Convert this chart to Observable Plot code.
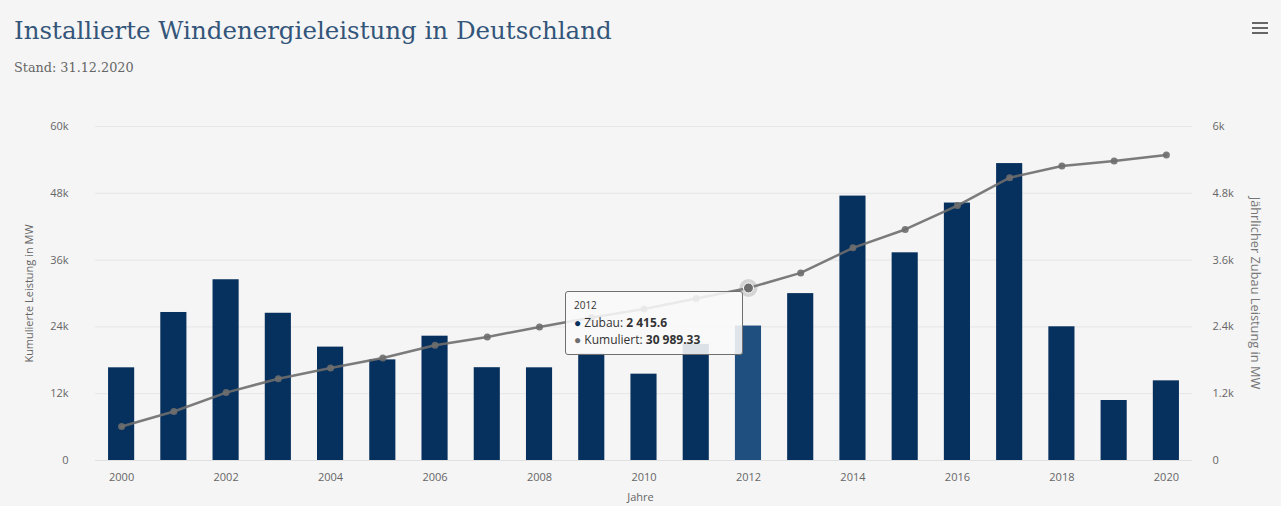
<!DOCTYPE html>
<html><head><meta charset="utf-8">
<script src="https://cdn.jsdelivr.net/npm/d3@7"></script>
<script src="https://cdn.jsdelivr.net/npm/@observablehq/plot@0.6"></script>
<style>
body{margin:0;background:#fff;}
#wrap{position:relative;width:1281px;height:506px;background:#f5f5f5;overflow:hidden;font-family:"Open Sans",sans-serif}
#title{position:absolute;left:14px;top:16px;font-family:"DejaVu Serif",serif;font-size:24.5px;color:#34557a;white-space:nowrap}
#sub{position:absolute;left:14px;top:60px;font-family:"DejaVu Serif",serif;font-size:12.8px;color:#666;white-space:nowrap}
#chart{position:absolute;left:0;top:90px}
.ytitle{position:absolute;font-size:11px;color:#666;white-space:nowrap;transform-origin:center center}
#yr{font-size:12.8px;color:#777}
#xtitle{position:absolute;font-size:11px;color:#666;left:0;width:1281px;text-align:center;top:489px}
#menu{position:absolute;left:1252px;top:22px;width:16px}
#menu div{height:2px;background:#666;margin-bottom:3px}
#tip{position:absolute;background:rgba(249,249,249,0.88);border:1px solid #707070;border-radius:3px;padding:6px 8px;font-size:12px;color:#333;white-space:nowrap;box-sizing:border-box}
#tip .h{font-size:10px;margin-bottom:2px}
#tip b{font-weight:700}
</style></head>
<body>
<div id="wrap">
  <div id="title">Installierte Windenergieleistung in Deutschland</div>
  <div id="sub">Stand: 31.12.2020</div>
  <div id="menu"><div></div><div></div><div></div></div>
  <div id="chart"></div>
  <div class="ytitle" id="yl">Kumulierte Leistung in MW</div>
  <div class="ytitle" id="yr">Jährlicher Zubau Leistung in MW</div>
  <div id="xtitle">Jahre</div>
  <div id="tip"></div>
</div>
<script>
const years = [2000,2001,2002,2003,2004,2005,2006,2007,2008,2009,2010,2011,2012,2013,2014,2015,2016,2017,2018,2019,2020];
const zubau = [1665,2659,3247,2645,2037,1808,2233,1667,1665,1917,1551,2086,2415.6,2998,4750,3731,4625,5334,2402,1078,1431];
const kumuliert = [6100,8800,12200,14700,16600,18400,20700,22200,24000,25700,27200,29100,30989.33,33700,38200,41500,45800,50800,52900,53800,54900];
const leftTicks = [0,12000,24000,36000,48000,60000];
const xTickYears = [2000,2002,2004,2006,2008,2010,2012,2014,2016,2018,2020];
const highlightYear = 2012;
const seriesNames = ["Zubau","Kumuliert"];

const data = years.map((y,i)=>({year:y, zubau:zubau[i], kum:kumuliert[i]}));
const ZF = 10; // right axis (0–6k) shares the left scale (0–60k)
const loc = d3.formatLocale({decimal:".", thousands:" ", grouping:[3], currency:["",""]});
const fmt = loc.format(",");

const W = 1281, H = 416;
const plot = Plot.plot({
  width: W, height: H,
  marginLeft: 95, marginRight: 89, marginTop: 36, marginBottom: 46,
  style: {background:"transparent", color:"#666", fontFamily:"'Open Sans',sans-serif", fontSize:"11px"},
  x: {type:"band", domain: years, paddingInner:0.5, paddingOuter:0.25, round:false, label:null},
  y: {domain:[0,60000], label:null},
  marks: [
    Plot.gridY(leftTicks, {stroke:"#e6e6e6", strokeOpacity:1}),
    Plot.ruleY([0], {stroke:"#e0e0e0"}),
    Plot.axisY(leftTicks, {anchor:"left", tickSize:0, tickPadding:27, label:null,
      tickFormat: d => d===0 ? "0" : d/1000 + "k"}),
    Plot.axisY(leftTicks, {anchor:"right", tickSize:0, tickPadding:20, label:null,
      tickFormat: d => d===0 ? "0" : (d/ZF/1000) + "k"}),
    Plot.axisX(xTickYears, {tickSize:0, tickPadding:13, label:null, tickFormat: d => String(d)}),
    Plot.barY(data, {x:"year", y: d => d.zubau*ZF,
      fill: d => d.year===highlightYear ? "#1f4f7e" : "#06305d"}),
    Plot.line(data, {x:"year", y:"kum", stroke:"#6e6e6e", strokeWidth:2.5, strokeOpacity:0.9}),
    Plot.dot(data, {x:"year", y:"kum", r:3.5, fill:"#6e6e6e", fillOpacity:0.9}),
    Plot.dot(data.filter(d=>d.year===highlightYear), {x:"year", y:"kum", r:9, fill:"#888", fillOpacity:0.3}),
    Plot.dot(data.filter(d=>d.year===highlightYear), {x:"year", y:"kum", r:5, fill:"#6e6e6e", stroke:"#fff", strokeWidth:1})
  ]
});
document.getElementById("chart").appendChild(plot);

// axis titles
const yl = document.getElementById("yl"), yr = document.getElementById("yr");
const cy = 90 + (36 + (H-46))/2;
function placeRot(el, cx, deg){
  const w = el.offsetWidth, h = el.offsetHeight;
  el.style.left = (cx - w/2) + "px";
  el.style.top = (cy - h/2) + "px";
  el.style.transform = "rotate(" + deg + "deg)";
}
placeRot(yl, 28, -90);
placeRot(yr, 1256, 90);

// tooltip anchored at the highlighted point
const xs = plot.scale("x"), ys = plot.scale("y");
const hd = data.find(d=>d.year===highlightYear);
const px = xs.apply(hd.year) + xs.bandwidth/2;
const py = 90 + ys.apply(hd.kum);
const tip = document.getElementById("tip");
tip.innerHTML = `<div class="h">${hd.year}</div>
<div><span style="color:#06305d">●</span> ${seriesNames[0]}: <b>${fmt(hd.zubau)}</b></div>
<div><span style="color:#6e6e6e">●</span> ${seriesNames[1]}: <b>${fmt(hd.kum)}</b></div>`;
tip.style.width = "178px";
tip.style.left = (px - 183) + "px";
tip.style.top = (py + 4) + "px";
</script>
</body></html>
